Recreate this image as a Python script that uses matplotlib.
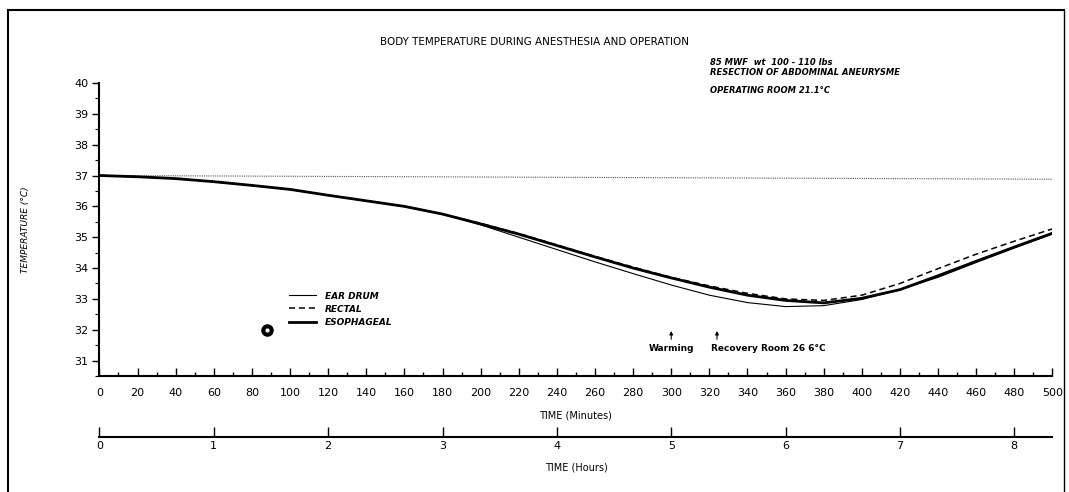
import numpy as np
import matplotlib.pyplot as plt
from matplotlib.lines import Line2D

# Data (minutes vs temperature in deg C)
minutes = [0, 20, 40, 60, 80, 100, 120, 140, 160, 180, 200, 220, 240,
           260, 280, 300, 320, 340, 360, 380, 400, 420, 440, 460, 480, 500]
esophageal = [37.0, 36.96, 36.9, 36.8, 36.68, 36.55, 36.36, 36.18, 36.0, 35.75,
              35.43, 35.1, 34.73, 34.36, 34.0, 33.68, 33.38, 33.12, 32.95, 32.87,
              33.02, 33.3, 33.75, 34.22, 34.68, 35.13]
rectal = [37.0, 36.96, 36.9, 36.8, 36.68, 36.55, 36.36, 36.18, 36.0, 35.75,
          35.45, 35.12, 34.75, 34.38, 34.03, 33.7, 33.42, 33.18, 33.0, 32.95,
          33.12, 33.5, 33.98, 34.45, 34.87, 35.27]
ear_drum = [37.0, 36.96, 36.9, 36.8, 36.68, 36.55, 36.36, 36.18, 36.0, 35.75,
            35.4, 35.0, 34.6, 34.2, 33.82, 33.45, 33.12, 32.88, 32.75, 32.78,
            32.98, 33.3, 33.7, 34.18, 34.65, 35.1]
ref_minutes = [0, 250, 500]
ref_temp = [37.0, 36.94, 36.88]
dot_minute = [88]
dot_temp = [32.0]
events = {"Warming": 300, "Recovery Room 26.6°C": 324}

plt.rcParams['font.family'] = ['DejaVu Sans']

fig = plt.figure(figsize=(10.69, 4.92), dpi=100)

# outer frame of the scanned figure (left, top, right)
fig.add_artist(Line2D([0.0075, 0.0075], [0.98, 0.0], color='black', lw=1.5, transform=fig.transFigure))
fig.add_artist(Line2D([0.0075, 0.995], [0.98, 0.98], color='black', lw=1.5, transform=fig.transFigure))
fig.add_artist(Line2D([0.995, 0.995], [0.98, 0.0], color='black', lw=1.0, transform=fig.transFigure))

ax = fig.add_axes([0.093, 0.2358, 0.8915, 0.5955])
ax.plot(ref_minutes, ref_temp, color='#555555', lw=0.8, ls=(0, (1, 1)))
ax.plot(minutes, ear_drum, color='black', lw=0.8, label='EAR DRUM')
ax.plot(minutes, rectal, color='black', lw=1.1, ls=(0, (4, 2.5)), label='RECTAL')
ax.plot(minutes, esophageal, color='black', lw=2.0, label='ESOPHAGEAL')
ax.plot(dot_minute, dot_temp, 'o', ms=8, mfc='black', mec='black')
ax.plot(dot_minute, dot_temp, 'o', ms=2, mfc='white', mec='white')

ax.set_xlim(0, 500)
ax.set_ylim(30.5, 40)
for s in ['top', 'right']:
    ax.spines[s].set_visible(False)
for s in ['left', 'bottom']:
    ax.spines[s].set_linewidth(1.5)
ax.set_xticks(np.arange(0, 501, 20))
ax.set_xticks(np.arange(0, 501, 10), minor=True)
ax.set_yticks(np.arange(31, 41, 1))
ax.set_yticks(np.arange(30.5, 40.1, 0.5), minor=True)
ax.tick_params(axis='x', which='major', direction='in', length=6, width=1, pad=9, labelsize=8)
ax.tick_params(axis='x', which='minor', direction='in', length=3, width=1)
ax.tick_params(axis='y', which='major', direction='out', length=5, width=1, pad=3, labelsize=8)
ax.tick_params(axis='y', which='minor', direction='out', length=3, width=0.8)
ax.set_xlabel('TIME (Minutes)', fontsize=7, labelpad=9)
ax.set_ylabel('TEMPERATURE (°C)', fontsize=6.5, style='italic', labelpad=32)

leg = ax.legend(loc='upper left', bbox_to_anchor=(95, 33.5), bbox_transform=ax.transData,
                frameon=False, handlelength=3.0, handletextpad=1.0, labelspacing=0.45,
                prop={'size': 6.5, 'style': 'italic', 'weight': 'bold'})

for label, m in events.items():
    ax.annotate('', xy=(m, 32.05), xytext=(m, 31.6),
                arrowprops=dict(arrowstyle='-|>', color='black', lw=0.8, mutation_scale=5))
ax.text(events["Warming"], 31.4, 'Warming', ha='center', va='center', fontsize=6.5, weight='bold')
ax.text(events["Recovery Room 26.6°C"] - 3, 31.4, 'Recovery Room 26 6°C', ha='left', va='center',
        fontsize=6.5, weight='bold')

fig.text(0.5, 0.915, 'BODY TEMPERATURE DURING ANESTHESIA AND OPERATION', ha='center', va='center',
         fontsize=7.5)
fig.text(0.664, 0.863, '85 MWF  wt  100 - 110 lbs\nRESECTION OF ABDOMINAL ANEURYSME', ha='left',
         va='center', fontsize=6.0, style='italic', weight='bold', linespacing=1.1)
fig.text(0.664, 0.817, 'OPERATING ROOM 21.1°C', ha='left', va='center', fontsize=6.0,
         style='italic', weight='bold')

# second time axis in hours
axh = fig.add_axes([0.093, 0.1118, 0.8915, 0.001])
axh.set_xlim(0, 500 / 60)
axh.set_yticks([])
for s in ['top', 'right', 'left']:
    axh.spines[s].set_visible(False)
axh.spines['bottom'].set_linewidth(1.5)
axh.set_xticks(np.arange(0, 9, 1))
axh.tick_params(axis='x', direction='in', length=7, width=1, pad=3, labelsize=8)
axh.set_xlabel('TIME (Hours)', fontsize=7, labelpad=8)

fig.savefig('out.png', dpi=100, facecolor='white')
